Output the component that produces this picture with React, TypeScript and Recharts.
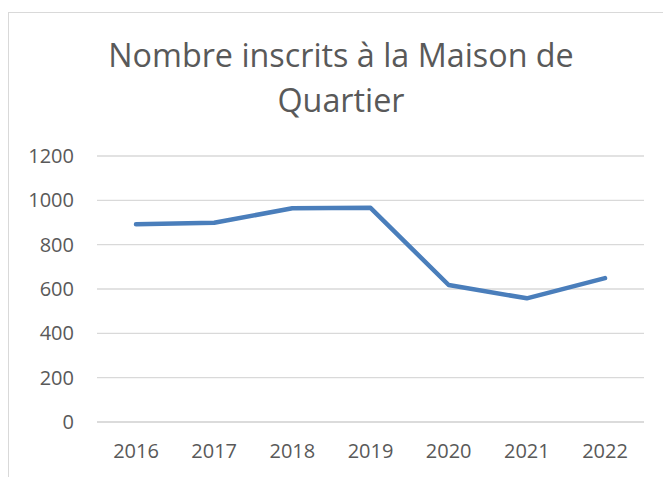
import React from "react";
import { LineChart, Line, XAxis, YAxis, CartesianGrid } from "recharts";

const years = ["2016", "2017", "2018", "2019", "2020", "2021", "2022"];
const inscrits = [892, 899, 964, 966, 618, 558, 649];
const yTicks = [0, 200, 400, 600, 800, 1000, 1200];
const titleLines = ["Nombre inscrits à la Maison de", "Quartier"];

const data = years.map((y, i) => ({ year: y, value: inscrits[i] }));

const FONT = "'Open Sans', sans-serif";
const GRAY = "#595959";

export default function App() {
  return (
    <div style={{ position: "absolute", left: 0, top: 0, width: 663, height: 477, overflow: "hidden", background: "#fff" }}>
      <div style={{ position: "absolute", left: 8, top: 12, width: 720, height: 520, border: "1px solid #d9d9d9", boxSizing: "border-box" }} />
      <div style={{ position: "absolute", left: 0, top: 0 }}>
        <LineChart width={663} height={477} data={data} margin={{ top: 156, right: 19, bottom: 25, left: 0 }}>
          <CartesianGrid vertical={false} stroke="#d9d9d9" strokeWidth={1.3} />
          <XAxis
            dataKey="year"
            padding={{ left: 39, right: 39 }}
            axisLine={{ stroke: "#d9d9d9", strokeWidth: 1.3 }}
            tickLine={false}
            tickSize={0}
            tickMargin={22}
            height={30}
            tick={{ fill: GRAY, fontSize: 20, fontFamily: FONT }}
          />
          <YAxis
            width={97}
            domain={[0, 1200]}
            ticks={yTicks}
            axisLine={false}
            tickLine={false}
            tickSize={0}
            tickMargin={23}
            tick={{ fill: GRAY, fontSize: 20, fontFamily: FONT }}
          />
          <Line
            type="linear"
            dataKey="value"
            stroke="#4a7ebb"
            strokeWidth={4.5}
            strokeLinecap="round"
            strokeLinejoin="round"
            dot={false}
            isAnimationActive={false}
          />
        </LineChart>
      </div>
      <svg width={663} height={140} style={{ position: "absolute", left: 0, top: 0 }}>
        <text x={341} y={67} textAnchor="middle" fill={GRAY} fontSize={32.3} fontFamily={FONT}>{titleLines[0]}</text>
        <text x={341} y={112} textAnchor="middle" fill={GRAY} fontSize={32.3} fontFamily={FONT}>{titleLines[1]}</text>
      </svg>
    </div>
  );
}
